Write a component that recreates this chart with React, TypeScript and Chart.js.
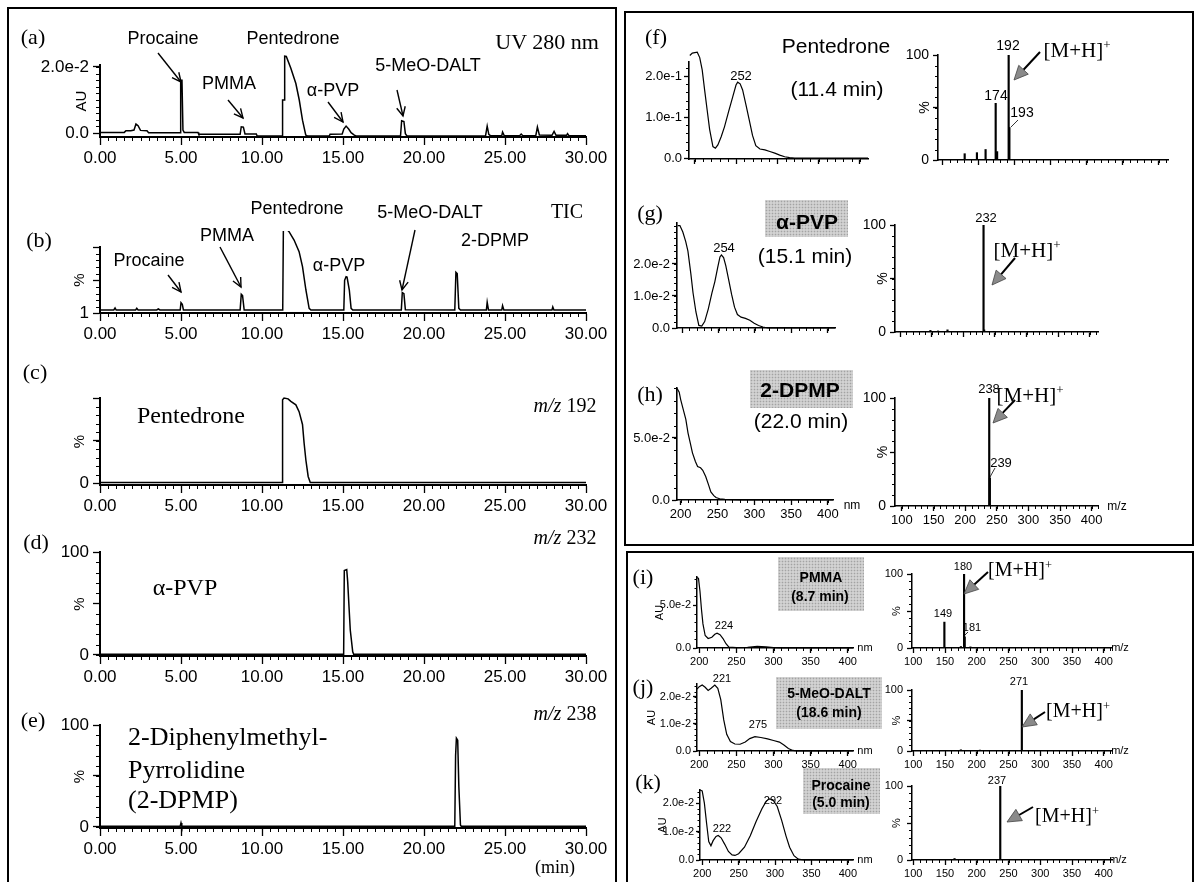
import React, { useEffect, useRef } from "react";
import { Chart, registerables } from "chart.js";
Chart.register(...registerables);

const SANS = "'Liberation Sans', Arial, sans-serif";
const SERIF = "'Liberation Serif', 'Times New Roman', serif";
const NARROW = "'Liberation Sans Narrow', 'Liberation Sans', Arial, sans-serif";

// ---------------- data ----------------
const timeTicks = [0, 5, 10, 15, 20, 25, 30];
const timeTickLabels = ["0.00", "5.00", "10.00", "15.00", "20.00", "25.00", "30.00"];
const nmTicks = [200, 250, 300, 350, 400];
const nmTickLabels = ["200", "250", "300", "350", "400"];
const mzTicks = [100, 150, 200, 250, 300, 350, 400];
const mzTickLabels = ["100", "150", "200", "250", "300", "350", "400"];

// (a) UV 280 nm chromatogram: [time (min), AU]
const uv280Trace: [number, number][] = [
  [0, 0.0002], [1.5, 0.0002], [1.6, 0.0007], [1.9, 0.0007], [2.1, 0.0009], [2.22, 0.0027], [2.35, 0.0022],
  [2.5, 0.0008], [2.9, 0.0007], [3.0, 0.0001], [4.95, 0.0001], [4.98, 0.016], [5.06, 0.016], [5.12, 0.0009],
  [5.2, 0.0002], [6.05, 0.0002], [6.1, -0.0004], [8.65, -0.0004], [8.72, 0.0019], [8.85, 0.0018], [8.95, -0.0003],
  [9.65, -0.0003], [9.7, -0.0009], [11.24, -0.0009], [11.27, 0.01], [11.37, 0.01], [11.4, 0.0233], [11.5, 0.0232],
  [11.78, 0.0196], [12.09, 0.015], [12.3, 0.01], [12.5, 0.0039], [12.7, -0.0006], [12.8, -0.0009], [14.15, -0.0009],
  [14.2, -0.0004], [14.95, -0.0003], [15.05, 0.0012], [15.19, 0.0021], [15.35, 0.0012], [15.5, 0.0001], [15.7, -0.0006],
  [15.8, -0.0009], [18.55, -0.0009], [18.62, 0.0037], [18.76, 0.0035], [18.85, -0.0002], [18.95, -0.0009],
  [23.8, -0.0008], [23.9, 0.0021], [24.0, -0.0004], [24.1, -0.0008], [24.8, -0.0008], [24.85, 0.0003], [24.95, -0.0008],
  [25.9, -0.0008], [26.0, -0.0003], [26.1, -0.0008], [26.9, -0.0008], [27.0, 0.0018], [27.12, -0.0006], [27.9, -0.0007],
  [28.03, 0.0005], [28.15, -0.0007], [28.8, -0.0007], [28.86, -0.0002], [28.95, -0.0008], [30, -0.0008],
];
// (b) TIC: [time, %]
const ticTrace: [number, number][] = [
  [0, 5.5], [0.85, 5.5], [0.93, 8.5], [1.0, 5.5], [2.2, 5.5], [2.27, 8], [2.35, 5.5], [3.5, 5.5], [3.6, 7], [3.7, 5.5],
  [4.95, 5.5], [5.0, 16.5], [5.08, 14], [5.15, 5.5], [8.65, 5.5], [8.72, 29], [8.8, 27], [8.9, 5.5], [11.28, 5.5],
  [11.32, 129], [11.47, 128], [11.67, 123], [11.98, 110.5], [12.29, 93], [12.5, 70.5], [12.71, 35.5], [12.91, 8],
  [13.02, 5.5], [15.05, 5.5], [15.1, 50], [15.19, 55.5], [15.25, 55], [15.39, 35.5], [15.5, 8], [15.6, 5.5],
  [18.6, 5.5], [18.66, 31.5], [18.76, 30], [18.85, 6], [21.9, 5.5], [21.97, 62], [22.05, 60], [22.15, 8], [22.25, 5.5],
  [23.85, 5.5], [23.9, 17], [23.98, 5.5], [24.8, 5.5], [24.85, 12], [24.93, 5.5], [27.9, 5.5], [27.95, 10], [28.02, 5.5],
  [30, 5.5],
];
// (c) m/z 192
const mz192Trace: [number, number][] = [
  [0, 0.8], [11.24, 0.8], [11.27, 98], [11.36, 100], [11.61, 99], [11.78, 96], [12.09, 92], [12.29, 84], [12.5, 69],
  [12.6, 47], [12.71, 27], [12.85, 8], [12.98, 0.8], [30, 0.8],
];
// (d) m/z 232
const mz232Trace: [number, number][] = [
  [0, 0.6], [15.04, 0.6], [15.08, 82], [15.23, 83], [15.29, 71], [15.37, 47], [15.45, 24], [15.6, 3], [15.66, 0.6], [30, 0.6],
];
// (e) m/z 238
const mz238Trace: [number, number][] = [
  [0, 0.7], [4.95, 0.7], [5.0, 4], [5.05, 0.7], [21.9, 0.7], [21.95, 70], [22.0, 87], [22.08, 85], [22.15, 40],
  [22.25, 2], [22.3, 0.7], [30, 0.7],
];
// UV spectra: [nm, AU]
const uvPentedrone: [number, number][] = [
  [194, 0.25], [197, 0.256], [203, 0.258], [206, 0.245], [209, 0.215], [212, 0.165], [215, 0.117], [218, 0.07],
  [222, 0.028], [225, 0.024], [228, 0.032], [232, 0.052], [236, 0.076], [241, 0.113], [246, 0.149], [250, 0.178],
  [252, 0.185], [255, 0.181], [258, 0.166], [262, 0.13], [266, 0.093], [270, 0.055], [274, 0.03], [279, 0.022],
  [285, 0.02], [291, 0.016], [297, 0.012], [303, 0.007], [309, 0.003], [315, 0.001], [321, 0], [410, 0],
];
const uvAlphaPVP: [number, number][] = [
  [194, 0.032], [197, 0.032], [201, 0.03], [205, 0.027], [208, 0.024], [212, 0.017], [215, 0.011], [219, 0.005],
  [223, 0.0008], [227, 0.0006], [231, 0.002], [236, 0.006], [241, 0.011], [245, 0.0145], [249, 0.019], [252, 0.0222],
  [254, 0.0228], [257, 0.022], [260, 0.0195], [264, 0.015], [268, 0.0105], [272, 0.0065], [276, 0.0042], [281, 0.0034],
  [287, 0.003], [293, 0.0024], [299, 0.0015], [305, 0.0008], [311, 0.0003], [318, 0], [410, 0],
];
const uvDPMP: [number, number][] = [
  [195, 0.09], [198, 0.087], [200, 0.081], [203, 0.074], [207, 0.065], [210, 0.054], [213, 0.046], [216, 0.038],
  [220, 0.031], [223, 0.027], [227, 0.026], [230, 0.024], [234, 0.019], [238, 0.012], [241, 0.0065], [245, 0.0035],
  [248, 0.002], [253, 0.001], [260, 0.0005], [270, 0.0002], [280, 0], [407, 0],
];
const uvPMMA: [number, number][] = [
  [197, 0.082], [199, 0.081], [201, 0.066], [203, 0.045], [205, 0.028], [208, 0.0145], [212, 0.011], [217, 0.0125],
  [221, 0.016], [224, 0.0172], [228, 0.0155], [232, 0.011], [236, 0.005], [240, 0.001], [250, 0.0004], [265, 0.0008],
  [278, 0.002], [290, 0.0012], [300, 0.0004], [310, 0], [407, 0],
];
const uvMeODALT: [number, number][] = [
  [197, 0.0229], [200, 0.0238], [204, 0.0244], [208, 0.0236], [212, 0.0224], [216, 0.0232], [221, 0.0244], [225, 0.0232],
  [229, 0.019], [233, 0.0115], [237, 0.0062], [242, 0.0035], [248, 0.0026], [255, 0.0025], [262, 0.0033], [268, 0.0046],
  [275, 0.0053], [283, 0.005], [292, 0.0045], [300, 0.0039], [308, 0.0033], [314, 0.0022], [320, 0.0009], [326, 0.0002],
  [332, 0], [407, 0],
];
const uvProcaine: [number, number][] = [
  [197, 0.0246], [200, 0.0243], [203, 0.02], [206, 0.013], [209, 0.0065], [212, 0.005], [215, 0.0068], [219, 0.0083],
  [222, 0.0086], [226, 0.0078], [231, 0.0055], [236, 0.003], [241, 0.0018], [245, 0.0016], [250, 0.0022], [258, 0.0045],
  [266, 0.0085], [274, 0.0135], [282, 0.018], [288, 0.0207], [292, 0.0215], [297, 0.0212], [303, 0.0188], [309, 0.014],
  [315, 0.0085], [320, 0.0045], [326, 0.0015], [332, 0.0003], [340, 0], [407, 0],
];
// Mass spectra: [m/z, %]
const msPentedrone: [number, number][] = [[131, 6], [148, 7], [160, 10], [174, 54], [176, 8], [192, 100], [193, 31]];
const msAlphaPVP: [number, number][] = [[148, 1.5], [160, 1], [175, 2], [232, 100], [233, 2]];
const msDPMP: [number, number][] = [[238, 100], [239, 26]];
const msPMMA: [number, number][] = [[149, 35], [175, 2], [180, 100], [181, 15], [190, 1.5]];
const msMeODALT: [number, number][] = [[175, 2], [205, 1.5], [271, 100]];
const msProcaine: [number, number][] = [[165, 2], [237, 100]];

// ---------------- chart machinery ----------------
type AxisSpec = {
  min: number; max: number; major: number[]; labels?: string[];
  minor?: [number, number, number]; font?: number; family?: string;
  tickLen?: number; minorLen?: number; pad?: number;
  title?: string; titleX?: number; titleSize?: number; yw?: number;
};
type PanelSpec = {
  key: string; rect: [number, number, number, number];
  kind: "line" | "bar"; data: [number, number][]; lw?: number; axisW?: number;
  x: AxisSpec; y: AxisSpec;
};

const minorTicks = {
  id: "minorTicks",
  afterDraw(chart: any, _a: any, opts: any) {
    const { ctx, chartArea } = chart;
    ctx.save();
    ctx.strokeStyle = "#000";
    ctx.lineWidth = 1;
    const sx = chart.scales.x, sy = chart.scales.y;
    if (opts.x) {
      const [from, to, step, len] = opts.x;
      for (let i = 0; from + i * step <= to + 1e-9; i++) {
        const px = Math.round(sx.getPixelForValue(from + i * step)) + 0.5;
        ctx.beginPath(); ctx.moveTo(px, chartArea.bottom); ctx.lineTo(px, chartArea.bottom + len); ctx.stroke();
      }
    }
    if (opts.y) {
      const [from, to, step, len] = opts.y;
      for (let i = 0; from + i * step <= to + 1e-9; i++) {
        const py = Math.round(sy.getPixelForValue(from + i * step)) + 0.5;
        ctx.beginPath(); ctx.moveTo(chartArea.left, py); ctx.lineTo(chartArea.left - len, py); ctx.stroke();
      }
    }
    ctx.restore();
  },
};

function geom(s: PanelSpec) {
  const [l, t, r, b] = s.rect;
  const ML = 110, MT = 16, MR = 40, MB = 46, xH = 38;
  const yW = s.y.yw ?? 70;
  const lh = (s.y.titleSize ?? 14) * 1.2;
  const titlePad = s.y.titleX != null ? Math.max(0, s.y.titleX - lh / 2 - (l - yW)) : 0;
  return { cl: l - ML, ct: t - MT, cw: r - l + ML + MR, ch: b - t + MT + MB, ML, MT, MR, MB, xH, yW, padL: ML - yW, titlePad };
}

function axisOpts(a: AxisSpec, which: "x" | "y", g: any, axisW: number) {
  return {
    type: "linear", min: a.min, max: a.max, offset: false,
    border: { display: true, color: "#000", width: axisW },
    grid: { display: true, drawOnChartArea: false, drawTicks: true, tickLength: a.tickLen ?? 7, color: "#000", tickColor: "#000", tickWidth: 1.3, offset: false },
    ticks: {
      display: !!a.labels, autoSkip: false, maxRotation: 0, minRotation: 0, padding: a.pad ?? 3, color: "#000",
      font: { family: a.family ?? SANS, size: a.font ?? 13 },
      callback: (_v: any, i: number) => (a.labels ? a.labels[i] : ""),
    },
    afterBuildTicks: (sc: any) => { sc.ticks = a.major.map((v) => ({ value: v })); },
    afterFit: (sc: any) => { if (which === "x") sc.height = g.xH; else sc.width = g.yW; },
    title: which === "y" && a.title
      ? { display: true, text: a.title, padding: { top: g.titlePad, bottom: 0 }, color: "#000", font: { family: SANS, size: a.titleSize ?? 14 } }
      : { display: false },
  };
}

function Panel({ spec }: { spec: PanelSpec }) {
  const ref = useRef<HTMLCanvasElement>(null);
  const g = geom(spec);
  useEffect(() => {
    const pts = spec.data.map(([x, y]) => ({ x, y }));
    const ds: any = spec.kind === "line"
      ? { type: "line", data: pts, borderColor: "#000", borderWidth: spec.lw ?? 1.5, pointRadius: 0, tension: 0, clip: false, fill: false }
      : { type: "bar", data: pts, backgroundColor: "#000", barThickness: spec.lw ?? 1.5, borderWidth: 0 };
    const axisW = spec.axisW ?? 2;
    const chart = new Chart(ref.current as HTMLCanvasElement, {
      type: spec.kind,
      data: { datasets: [ds] },
      options: {
        responsive: false, animation: false, devicePixelRatio: 1, events: [],
        layout: { padding: { left: g.padL, top: g.MT, right: g.MR, bottom: g.MB - g.xH } },
        plugins: {
          legend: { display: false }, tooltip: { enabled: false },
          minorTicks: {
            x: spec.x.minor ? [...spec.x.minor, spec.x.minorLen ?? 4] : null,
            y: spec.y.minor ? [...spec.y.minor, spec.y.minorLen ?? 4] : null,
          },
        } as any,
        scales: { x: axisOpts(spec.x, "x", g, axisW), y: axisOpts(spec.y, "y", g, axisW) } as any,
      },
      plugins: [minorTicks],
    } as any);
    return () => chart.destroy();
  }, []);
  return (
    <canvas ref={ref} width={g.cw} height={g.ch}
      style={{ position: "absolute", left: g.cl, top: g.ct, width: g.cw, height: g.ch }} />
  );
}

// ---------------- panel specs ----------------
const chromX: AxisSpec = { min: 0, max: 30, major: timeTicks, labels: timeTickLabels, minor: [0, 30, 0.5], font: 17, tickLen: 8, minorLen: 4, pad: 3 };
const pctMajor = [0, 50, 100];
const uvX = (min: number, max: number, labels: boolean, font = 13, family = NARROW): AxisSpec =>
  ({ min, max, major: nmTicks, labels: labels ? nmTickLabels : undefined, minor: [200, 400, 10], font, family, tickLen: 5, minorLen: 3, pad: 2 });
const msX = (min: number, max: number, labels: boolean, font = 13, family = NARROW): AxisSpec =>
  ({ min, max, major: mzTicks, labels: labels ? mzTickLabels : undefined, minor: [100, 410, 10], font, family, tickLen: 5, minorLen: 3, pad: 2 });
const msY = (titleX: number, font = 14): AxisSpec =>
  ({ min: 0, max: 100, major: pctMajor, labels: ["0", "", "100"], minor: [0, 100, 10], font, tickLen: 5, minorLen: 3, pad: 4, title: "%", titleX, titleSize: font });
const chromY = (min: number, max: number, major: number[], labels: string[], minor: [number, number, number], title: string, titleX: number): AxisSpec =>
  ({ min, max, major, labels, minor, font: 17, tickLen: 7, pad: 4, title, titleX, titleSize: 15, yw: 98 });

const panels: PanelSpec[] = [
  { key: "a", rect: [100, 65, 586, 137], kind: "line", data: uv280Trace, x: chromX,
    y: chromY(-0.0012, 0.0206, [0, 0.02], ["0.0", "2.0e-2"], [0, 0.02, 0.002], "AU", 82) },
  { key: "b", rect: [100, 247, 586, 313], kind: "line", data: ticTrace, x: chromX,
    y: chromY(1, 100, [1, 50, 100], ["1", "", ""], [10, 100, 10], "%", 80) },
  { key: "c", rect: [100, 398, 586, 485], kind: "line", data: mz192Trace, x: chromX,
    y: chromY(-2, 100, [0, 50, 100], ["0", "", ""], [0, 100, 10], "%", 80) },
  { key: "d", rect: [100, 552, 586, 656], kind: "line", data: mz232Trace, x: chromX,
    y: chromY(-1, 100, [0, 50, 100], ["0", "", "100"], [0, 100, 10], "%", 80) },
  { key: "e", rect: [100, 725, 586, 828], kind: "line", data: mz238Trace, x: chromX,
    y: chromY(-1, 100, [0, 50, 100], ["0", "", "100"], [0, 100, 10], "%", 80) },

  { key: "fu", rect: [689, 62, 868, 159], kind: "line", data: uvPentedrone, lw: 1.2, axisW: 1.6, x: uvX(193, 410, false),
    y: { min: -0.0024, max: 0.2342, major: [0, 0.1, 0.2], labels: ["0.0", "1.0e-1", "2.0e-1"], minor: [0, 0.22, 0.02], font: 13, family: NARROW, tickLen: 5, minorLen: 3, pad: 2 } },
  { key: "fm", rect: [938, 55, 1168, 160], kind: "bar", data: msPentedrone, axisW: 1.6, x: msX(94, 413, false), y: msY(925) },
  { key: "gu", rect: [677, 223, 835, 328], kind: "line", data: uvAlphaPVP, lw: 1.2, axisW: 1.6, x: uvX(193, 410, false),
    y: { min: 0, max: 0.0328, major: [0, 0.01, 0.02], labels: ["0.0", "1.0e-2", "2.0e-2"], minor: [0, 0.032, 0.002], font: 13, family: NARROW, tickLen: 5, minorLen: 3, pad: 2 } },
  { key: "gm", rect: [895, 225, 1098, 332], kind: "bar", data: msAlphaPVP, axisW: 1.6, x: msX(92, 413, false), y: msY(883) },
  { key: "hu", rect: [677, 388, 833, 500], kind: "line", data: uvDPMP, lw: 1.2, axisW: 1.6, x: uvX(195, 407, true),
    y: { min: 0, max: 0.0903, major: [0, 0.05], labels: ["0.0", "5.0e-2"], minor: [0, 0.09, 0.01], font: 13, family: NARROW, tickLen: 5, minorLen: 3, pad: 2 } },
  { key: "hm", rect: [895, 398, 1098, 506], kind: "bar", data: msDPMP, axisW: 1.6, x: msX(89, 410, true), y: msY(883) },

  { key: "iu", rect: [697, 577, 853, 648], kind: "line", data: uvPMMA, lw: 1.2, axisW: 1.5, x: uvX(197, 407, true, 11, SANS),
    y: { min: 0, max: 0.0826, major: [0, 0.05], labels: ["0.0", "5.0e-2"], minor: [0, 0.08, 0.01], font: 11, tickLen: 4, minorLen: 2.5, pad: 2, title: "AU", titleX: 660, titleSize: 11 } },
  { key: "im", rect: [912, 574, 1112, 648], kind: "bar", data: msPMMA, axisW: 1.5, x: msX(98, 413, true, 11, SANS), y: msY(897, 11) },
  { key: "ju", rect: [697, 684, 853, 751], kind: "line", data: uvMeODALT, lw: 1.2, axisW: 1.5, x: uvX(197, 407, true, 11, SANS),
    y: { min: 0, max: 0.0248, major: [0, 0.01, 0.02], labels: ["0.0", "1.0e-2", "2.0e-2"], minor: [0, 0.024, 0.002], font: 11, tickLen: 4, minorLen: 2.5, pad: 2, title: "AU", titleX: 652, titleSize: 11 } },
  { key: "jm", rect: [912, 690, 1112, 751], kind: "bar", data: msMeODALT, axisW: 1.5, x: msX(98, 413, true, 11, SANS), y: msY(897, 11) },
  { key: "ku", rect: [700, 790, 853, 860], kind: "line", data: uvProcaine, lw: 1.2, axisW: 1.5, x: uvX(197, 407, true, 11, SANS),
    y: { min: 0, max: 0.0246, major: [0, 0.01, 0.02], labels: ["0.0", "1.0e-2", "2.0e-2"], minor: [0, 0.024, 0.002], font: 11, tickLen: 4, minorLen: 2.5, pad: 2, title: "AU", titleX: 663, titleSize: 11 } },
  { key: "km", rect: [912, 786, 1112, 860], kind: "bar", data: msProcaine, axisW: 1.5, x: msX(98, 413, true, 11, SANS), y: msY(897, 11) },
];

// ---------------- overlay helpers ----------------
function T(p: { x: number; y: number; s: number; f?: string; w?: any; left?: boolean; children: any }) {
  return (
    <div style={{
      position: "absolute", left: p.x, top: p.y, transform: p.left ? "translate(0,-50%)" : "translate(-50%,-50%)",
      fontFamily: p.f ?? SANS, fontSize: p.s, fontWeight: p.w ?? "normal", lineHeight: 1, whiteSpace: "nowrap", color: "#000",
    }}>{p.children}</div>
  );
}
const MH = () => (<span>[M+H]<span style={{ fontSize: "0.62em", position: "relative", top: "-0.6em" }}>+</span></span>);
const MZ = ({ v }: { v: string }) => (<span><i>m/z</i> {v}</span>);

function GrayBox({ x, y, w, h }: { x: number; y: number; w: number; h: number }) {
  return <div style={{
    position: "absolute", left: x, top: y, width: w, height: h, backgroundColor: "#d2d2d2",
    backgroundImage: "radial-gradient(circle, #a3a3a3 0.7px, transparent 1.1px)", backgroundSize: "3px 3px",
  }} />;
}

function VArrow({ x1, y1, x2, y2 }: any) {
  const a = Math.atan2(y2 - y1, x2 - x1);
  const L = 10, s = 0.45;
  const p1 = [x2 - L * Math.cos(a - s), y2 - L * Math.sin(a - s)];
  const p2 = [x2 - L * Math.cos(a + s), y2 - L * Math.sin(a + s)];
  return (<g stroke="#000" strokeWidth={1.4} fill="none">
    <line x1={x1} y1={y1} x2={x2} y2={y2} />
    <polyline points={`${p1[0]},${p1[1]} ${x2},${y2} ${p2[0]},${p2[1]}`} />
  </g>);
}
function FArrow({ x1, y1, x2, y2 }: any) {
  const a = Math.atan2(y2 - y1, x2 - x1);
  const L = 14, W = 6.5;
  const bx = x2 - L * Math.cos(a), by = y2 - L * Math.sin(a);
  const nx = -Math.sin(a) * W, ny = Math.cos(a) * W;
  return (<g>
    <line x1={x1} y1={y1} x2={bx} y2={by} stroke="#000" strokeWidth={2} />
    <polygon points={`${x2},${y2} ${bx + nx},${by + ny} ${bx - nx},${by - ny}`} fill="#8a8a8a" stroke="#444" strokeWidth={0.8} />
  </g>);
}
const Lead = ({ x1, y1, x2, y2 }: any) => <line x1={x1} y1={y1} x2={x2} y2={y2} stroke="#000" strokeWidth={0.8} />;

export default function App() {
  return (
    <div style={{ position: "absolute", left: 0, top: 0, width: 1197, height: 882, overflow: "hidden", background: "#fff" }}>
      {/* gray label boxes */}
      <GrayBox x={765} y={200} w={83} h={37} />
      <GrayBox x={750} y={370} w={103} h={38} />
      <GrayBox x={778} y={557} w={86} h={54} />
      <GrayBox x={776} y={677} w={106} h={52} />
      <GrayBox x={803} y={768} w={77} h={46} />

      {panels.map((p) => <Panel key={p.key} spec={p} />)}

      <svg width={1197} height={882} style={{ position: "absolute", left: 0, top: 0, pointerEvents: "none" }}>
        <rect x={8} y={8} width={608} height={900} fill="none" stroke="#000" strokeWidth={2} />
        <rect x={625} y={12} width={568} height={533} fill="none" stroke="#000" strokeWidth={2} />
        <rect x={627} y={552} width={566} height={360} fill="none" stroke="#000" strokeWidth={2} />
        {/* left arrows */}
        <VArrow x1={158} y1={53} x2={181} y2={82} />
        <VArrow x1={228} y1={100} x2={243} y2={118} />
        <VArrow x1={328} y1={102} x2={343} y2={122} />
        <VArrow x1={397} y1={90} x2={403} y2={116} />
        <VArrow x1={168} y1={275} x2={181} y2={292} />
        <VArrow x1={220} y1={247} x2={241} y2={287} />
        <VArrow x1={415} y1={230} x2={402} y2={290} />
        {/* right arrows */}
        <FArrow x1={1040} y1={52} x2={1014} y2={80} />
        <FArrow x1={1015} y1={258} x2={992} y2={285} />
        <FArrow x1={1015} y1={400} x2={993} y2={423} />
        <FArrow x1={988} y1={572} x2={964} y2={594} />
        <FArrow x1={1045} y1={712} x2={1022} y2={727} />
        <FArrow x1={1033} y1={807} x2={1007} y2={822} />
        <Lead x1={1018} y1={120} x2={1011} y2={127} />
        <Lead x1={995} y1={468} x2={990} y2={477} />
        <Lead x1={968} y1={632} x2={963} y2={637} />
      </svg>

      {/* left panel texts */}
      <T x={33} y={37} s={22} f={SERIF}>(a)</T>
      <T x={163} y={38} s={18}>Procaine</T>
      <T x={293} y={38} s={18}>Pentedrone</T>
      <T x={547} y={42} s={22} f={SERIF}>UV 280 nm</T>
      <T x={229} y={83} s={18}>PMMA</T>
      <T x={333} y={90} s={18}>α-PVP</T>
      <T x={428} y={65} s={18}>5-MeO-DALT</T>

      <T x={39} y={240} s={22} f={SERIF}>(b)</T>
      <T x={297} y={208} s={18}>Pentedrone</T>
      <T x={430} y={212} s={18}>5-MeO-DALT</T>
      <T x={567} y={211} s={20} f={SERIF}>TIC</T>
      <T x={149} y={260} s={18}>Procaine</T>
      <T x={227} y={235} s={18}>PMMA</T>
      <T x={339} y={265} s={18}>α-PVP</T>
      <T x={495} y={240} s={18}>2-DPMP</T>

      <T x={35} y={372} s={22} f={SERIF}>(c)</T>
      <T x={191} y={415} s={24} f={SERIF}>Pentedrone</T>
      <T x={565} y={405} s={20} f={SERIF}><MZ v="192" /></T>

      <T x={36} y={542} s={22} f={SERIF}>(d)</T>
      <T x={185} y={587} s={24} f={SERIF}>α-PVP</T>
      <T x={565} y={537} s={20} f={SERIF}><MZ v="232" /></T>

      <T x={33} y={720} s={22} f={SERIF}>(e)</T>
      <T x={128} y={737} s={26} f={SERIF} left>2-Diphenylmethyl-</T>
      <T x={128} y={770} s={26} f={SERIF} left>Pyrrolidine</T>
      <T x={128} y={800} s={26} f={SERIF} left>(2-DPMP)</T>
      <T x={565} y={713} s={20} f={SERIF}><MZ v="238" /></T>
      <T x={555} y={867} s={18} f={SERIF}>(min)</T>

      {/* top right */}
      <T x={656} y={37} s={22} f={SERIF}>(f)</T>
      <T x={836} y={45} s={21}>Pentedrone</T>
      <T x={837} y={88} s={21}>(11.4 min)</T>
      <T x={741} y={75} s={13} f={NARROW}>252</T>
      <T x={1008} y={45} s={14}>192</T>
      <T x={996} y={95} s={14}>174</T>
      <T x={1022} y={112} s={14}>193</T>
      <T x={1077} y={50} s={21} f={SERIF}><MH /></T>

      <T x={650} y={213} s={22} f={SERIF}>(g)</T>
      <T x={807} y={221} s={21} w="bold">α-PVP</T>
      <T x={805} y={255} s={21}>(15.1 min)</T>
      <T x={724} y={247} s={13} f={NARROW}>254</T>
      <T x={986} y={217} s={13} f={NARROW}>232</T>
      <T x={1027} y={250} s={21} f={SERIF}><MH /></T>

      <T x={650} y={394} s={22} f={SERIF}>(h)</T>
      <T x={800} y={389} s={21} w="bold">2-DPMP</T>
      <T x={801} y={420} s={21}>(22.0 min)</T>
      <T x={989} y={388} s={13} f={NARROW}>238</T>
      <T x={1001} y={462} s={13} f={NARROW}>239</T>
      <T x={1030} y={395} s={21} f={SERIF}><MH /></T>
      <T x={852} y={505} s={12} f={NARROW}>nm</T>
      <T x={1117} y={506} s={12} f={NARROW}>m/z</T>

      {/* bottom right */}
      <T x={643} y={577} s={22} f={SERIF}>(i)</T>
      <T x={821} y={577} s={14} w="bold">PMMA</T>
      <T x={820} y={596} s={14} w="bold">(8.7 min)</T>
      <T x={724} y={625} s={11}>224</T>
      <T x={963} y={566} s={11}>180</T>
      <T x={943} y={613} s={11}>149</T>
      <T x={972} y={627} s={11}>181</T>
      <T x={1020} y={569} s={20} f={SERIF}><MH /></T>
      <T x={865} y={647} s={11}>nm</T>
      <T x={1120} y={647} s={11}>m/z</T>

      <T x={643} y={687} s={22} f={SERIF}>(j)</T>
      <T x={829} y={693} s={14} w="bold">5-MeO-DALT</T>
      <T x={829} y={712} s={14} w="bold">(18.6 min)</T>
      <T x={722} y={678} s={11}>221</T>
      <T x={758} y={724} s={11}>275</T>
      <T x={1019} y={681} s={11}>271</T>
      <T x={1078} y={710} s={20} f={SERIF}><MH /></T>
      <T x={865} y={750} s={11}>nm</T>
      <T x={1120} y={750} s={11}>m/z</T>

      <T x={648} y={782} s={22} f={SERIF}>(k)</T>
      <T x={841} y={785} s={14} w="bold">Procaine</T>
      <T x={841} y={802} s={14} w="bold">(5.0 min)</T>
      <T x={773} y={800} s={11}>292</T>
      <T x={722} y={828} s={11}>222</T>
      <T x={997} y={780} s={11}>237</T>
      <T x={1067} y={815} s={20} f={SERIF}><MH /></T>
      <T x={865} y={859} s={11}>nm</T>
      <T x={1118} y={859} s={11}>m/z</T>
    </div>
  );
}
